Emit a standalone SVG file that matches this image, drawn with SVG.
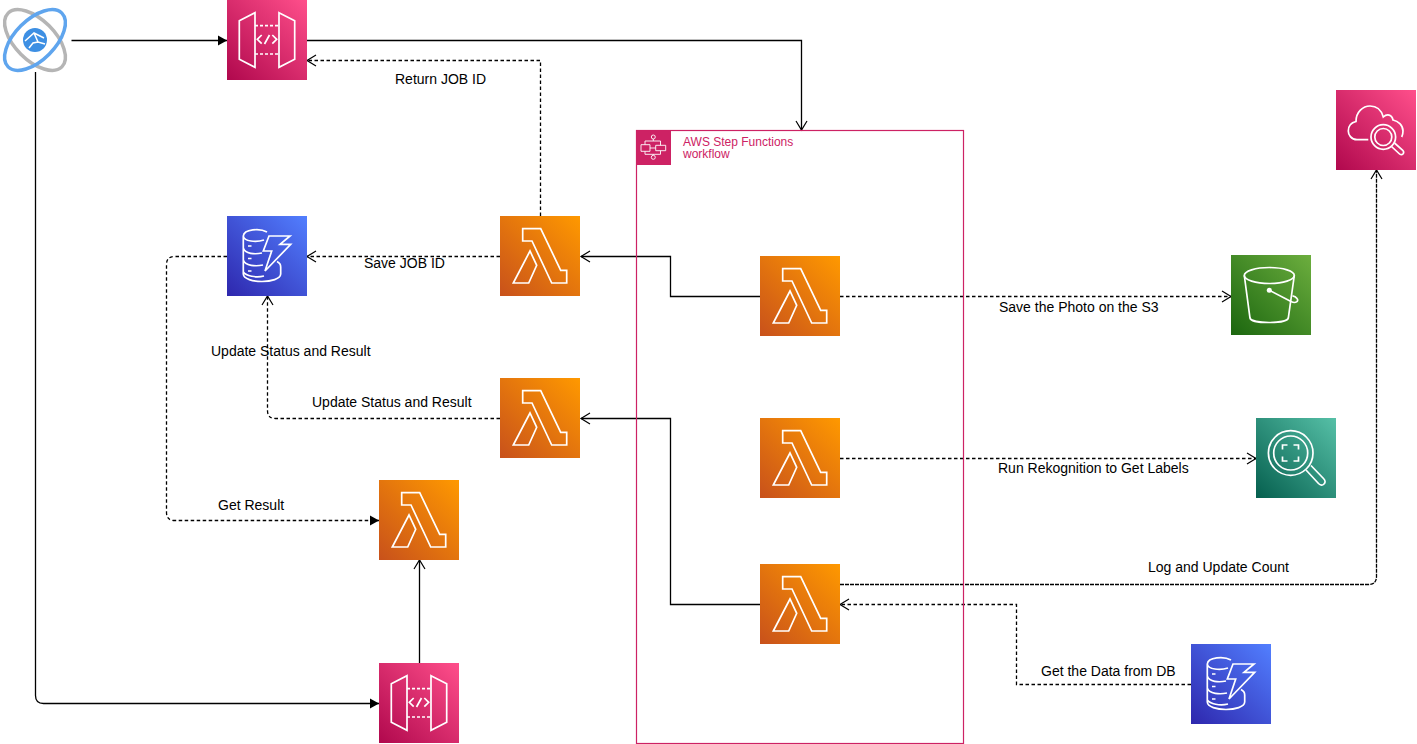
<svg xmlns="http://www.w3.org/2000/svg" width="1417" height="744" viewBox="0 0 1417 744">
<style>
text{font-family:"Liberation Sans",Arial,sans-serif;font-size:14px;fill:#000}
.c{fill:none;stroke:#000;stroke-width:1.3}
.d{stroke-dasharray:3.500 2.500}
.f{stroke-dasharray:4 1}
.i{fill:none;stroke:#fff;stroke-width:1.700}
.if{fill:#fff;stroke:none}
</style>
<defs>
<linearGradient id="gL" x1="0" y1="1" x2="1" y2="0"><stop offset="0" stop-color="#C8511B"/><stop offset="1" stop-color="#F90"/></linearGradient>
<linearGradient id="gP" x1="0" y1="1" x2="1" y2="0"><stop offset="0" stop-color="#B0084D"/><stop offset="1" stop-color="#FF4F8B"/></linearGradient>
<linearGradient id="gB" x1="0" y1="1" x2="1" y2="0"><stop offset="0" stop-color="#2E27AD"/><stop offset="1" stop-color="#527FFF"/></linearGradient>
<linearGradient id="gG" x1="0" y1="1" x2="1" y2="0"><stop offset="0" stop-color="#1B660F"/><stop offset="1" stop-color="#6CAE3E"/></linearGradient>
<linearGradient id="gT" x1="0" y1="1" x2="1" y2="0"><stop offset="0" stop-color="#055F4E"/><stop offset="1" stop-color="#56C0A7"/></linearGradient>
<marker id="open" markerUnits="userSpaceOnUse" markerWidth="12" markerHeight="14" refX="10" refY="7" orient="auto"><path d="M1 1.500L10 7L1 12.500" fill="none" stroke="#000" stroke-width="1.200"/></marker>
<marker id="block" markerUnits="userSpaceOnUse" markerWidth="10" markerHeight="12" refX="9" refY="5.500" orient="auto"><path d="M0 0.500L9 5.500L0 10.500Z" fill="#000"/></marker>
<symbol id="sym-lambda" width="80" height="80" viewBox="0 0 80 80"><rect width="80" height="80" fill="url(#gL)"/><path class="i" d="M22.700 12.700H40.700L60.700 54.300H66.700V67H51.700L32 25H22.700ZM13.300 67L30 35L36.700 49.300L28.700 67Z"/></symbol>
<symbol id="sym-api" width="80" height="80" viewBox="0 0 80 80"><rect width="80" height="80" fill="url(#gP)"/><path class="i" d="M12.300 20.700L28 12.700V67.300L12.300 59.300ZM52 12.700L67.700 20.700V59.300L52 67.300ZM34.700 35L30.300 39.300L34.700 43.700M37.500 44L42.500 35M45.300 35L49.700 39.300L45.300 43.700"/><path class="i" stroke-dasharray="3 2" d="M28 25.700H52M28 54H52"/></symbol>
<symbol id="sym-ddb" width="80" height="80" viewBox="0 0 80 80"><rect width="80" height="80" fill="url(#gB)"/><path class="i" d="M40 16C33 12 17 13 16.300 20V58C17 68 53 68 53.700 58V51C53.700 48 52 46.500 50 45.500M16.300 20C17 25.500 29 26.500 37 24M16.300 32C18 38 28 38.500 35 37M16.300 44C18 50 29 50.500 36 49M16.300 56C19 60 29 62 37 60M21 30H24.500M21 42.500H24.500M21 55H24.500"/><path class="i" d="M42 20H63L53 28.300H63.700L38 55L44.700 35H36.300Z"/></symbol>
<symbol id="sym-cw" width="80" height="80" viewBox="0 0 80 80"><rect width="80" height="80" fill="url(#gP)"/><path class="i" d="M32.300 49.700H21C15 49.700 12.300 44.500 12.300 41C12.300 36 15.500 32.500 20 31.500C20 22 27 16 34 16C41 16 45.500 20.500 47.300 27C51 23.500 56 24.500 57 30C62 31 67 35 67 41C67 43.500 66.500 45.500 65.700 47"/><circle class="i" cx="47.300" cy="47" r="12.300"/><circle class="i" cx="47.300" cy="47" r="8.500"/><path class="i" d="M55.500 56.500L63 63.500C64.500 65 66 65 67 64C68 63 68 61.500 66.500 60L58.500 53"/></symbol>
<symbol id="sym-s3" width="80" height="80" viewBox="0 0 80 80"><rect width="80" height="80" fill="url(#gG)"/><ellipse class="i" cx="38.300" cy="20.500" rx="25" ry="8"/><path class="i" d="M13.300 20.500L19 63C20 69 56 69 57.300 63L63.300 20.500"/><path class="i" d="M38.300 35.300L60 46.500C65 49 68 46 66 43.500C65 42 63 41 61.500 40.800"/><circle class="if" cx="38.300" cy="35.300" r="2.500"/></symbol>
<symbol id="sym-rek" width="80" height="80" viewBox="0 0 80 80"><rect width="80" height="80" fill="url(#gT)"/><circle class="i" cx="34.700" cy="35" r="22.300"/><circle class="i" cx="34.700" cy="35" r="17"/><path class="i" d="M50 52L62.500 65.500C64.500 67.500 66.500 67.500 68 66C69.500 64.500 69.500 62.500 67.500 60.500L55 47.500"/><path class="i" d="M26.500 31.500V27H31.500M37.500 27H42.500V31.500M42.500 38.500V43H37.500M31.500 43H26.500V38.500"/></symbol>
</defs>
<g id="connectors">
<path class="c" marker-end="url(#block)" d="M71.500 40.500H227"/>
<path class="c" marker-end="url(#block)" d="M35.500 72V695.500Q35.500 703.500 43.500 703.500H379"/>
<path class="c" marker-end="url(#open)" d="M307 40.500H801.500V130"/>
<path class="c d" marker-end="url(#open)" d="M540.500 216V60.500H307"/>
<path class="c d" marker-end="url(#open)" d="M500 256.500H307"/>
<path class="c d" marker-end="url(#block)" d="M227 256.500H174.500Q166.500 256.500 166.500 264.500V512.500Q166.500 520.500 174.500 520.500H379"/>
<path class="c" marker-end="url(#open)" d="M760 296.500H670.500V256.500H581"/>
<path class="c d" marker-end="url(#open)" d="M840 296.500H1231"/>
<path class="c d" marker-end="url(#open)" d="M840 458.500H1256"/>
<path class="c d" marker-end="url(#open)" d="M500 418.500H275.500Q267.500 418.500 267.500 410.500V296"/>
<path class="c" marker-end="url(#open)" d="M760 604.500H670.500V418.500H581"/>
<path class="c f" marker-end="url(#open)" d="M840 584.500H1368.500Q1376.500 584.500 1376.500 576.500V170"/>
<path class="c d" marker-end="url(#open)" d="M1191 684.500H1016.500V604.500H840"/>
<path class="c" marker-end="url(#open)" d="M419.500 663V560"/>
</g>
<g id="step-functions">
<rect x="636.500" y="130.500" width="327" height="613" fill="none" stroke="#CD2264" stroke-width="1.200"/>
<rect x="637" y="130" width="34" height="35" fill="#CD2264"/>
<path d="M641 144.700H650V151.300H641ZM655.700 145.300H665.700V150.700H655.700ZM650 148H655.700M653.300 139V141M645 144.700V141H660.500V145.300M645 151.300V154.300H660.500V150.700M653.300 154.300V155.300" fill="none" stroke="#fff" stroke-width="0.900"/>
<circle cx="653.300" cy="137" r="2" fill="#CD2264" stroke="#fff" stroke-width="0.900"/>
<circle cx="653.300" cy="157.300" r="2" fill="#CD2264" stroke="#fff" stroke-width="0.900"/>
<text x="683" y="146" style="font-size:12px;fill:#CD2264">AWS Step Functions</text>
<text x="683" y="158" style="font-size:12px;fill:#CD2264">workflow</text>
</g>
<g id="client">
<g fill="none" stroke-width="3.500">
<ellipse cx="35" cy="40" rx="38" ry="20" transform="rotate(45 35 40)" stroke="#B5B5B5"/>
<ellipse cx="35" cy="40" rx="38" ry="20" transform="rotate(-45 35 40)" stroke="#5FA5EE"/>
</g>
<circle cx="35" cy="40" r="12" fill="#3D8FE3"/>
<path d="M25 41L34 33L44 38M34 33L38 42M29 48L33 43L38 42L45 44" fill="none" stroke="#fff" stroke-width="1.500"/>
</g>
<g id="api-gateway-1"><use href="#sym-api" x="227" y="0"/></g>
<g id="api-gateway-2"><use href="#sym-api" x="379" y="663"/></g>
<g id="lambda-job-id"><use href="#sym-lambda" x="500" y="216"/></g>
<g id="lambda-update"><use href="#sym-lambda" x="500" y="378"/></g>
<g id="lambda-get-result"><use href="#sym-lambda" x="379" y="480"/></g>
<g id="lambda-save"><use href="#sym-lambda" x="760" y="256"/></g>
<g id="lambda-rekognition"><use href="#sym-lambda" x="760" y="418"/></g>
<g id="lambda-log"><use href="#sym-lambda" x="760" y="564"/></g>
<g id="dynamodb-1"><use href="#sym-ddb" x="227" y="216"/></g>
<g id="dynamodb-2"><use href="#sym-ddb" x="1191" y="644"/></g>
<g id="cloudwatch"><use href="#sym-cw" x="1336" y="90"/></g>
<g id="s3-bucket"><use href="#sym-s3" x="1231" y="255"/></g>
<g id="rekognition"><use href="#sym-rek" x="1256" y="418"/></g>
<g id="labels">
<text x="395" y="84">Return JOB ID</text>
<text x="364" y="268">Save JOB ID</text>
<text x="211" y="356">Update Status and Result</text>
<text x="312" y="407">Update Status and Result</text>
<text x="218" y="510">Get Result</text>
<text x="999" y="312">Save the Photo on the S3</text>
<text x="998" y="473">Run Rekognition to Get Labels</text>
<text x="1148" y="572">Log and Update Count</text>
<text x="1041" y="676">Get the Data from DB</text>
</g>
</svg>
